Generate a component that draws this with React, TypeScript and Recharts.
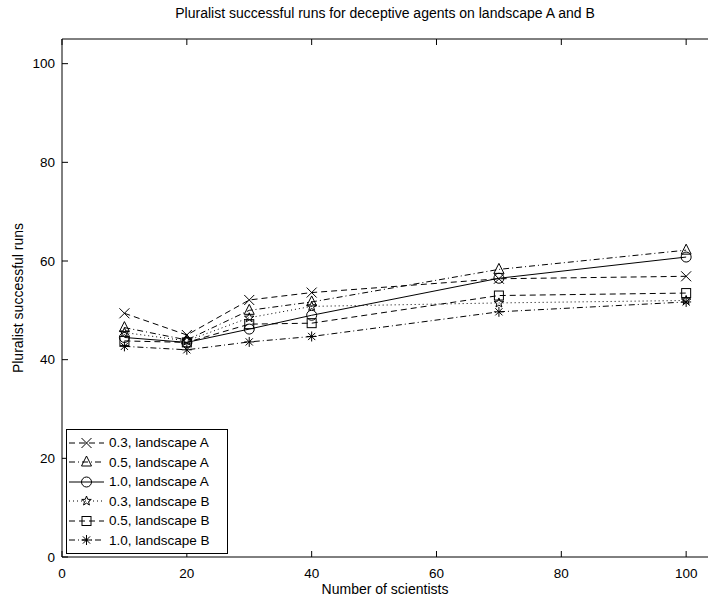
import React from "react"
import { LineChart, Line, XAxis, YAxis } from "recharts"

const scientists = [10, 20, 30, 40, 70, 100]
const a03 = [49.4, 45.0, 52.1, 53.6, 56.4, 56.9]
const a05 = [46.5, 44.0, 50.0, 51.7, 58.3, 62.2]
const a10 = [44.5, 43.5, 46.2, 49.0, 56.5, 60.8]
const b03 = [45.5, 43.8, 48.5, 50.8, 51.5, 52.0]
const b05 = [43.8, 43.5, 47.2, 47.4, 53.0, 53.5]
const b10 = [42.7, 42.0, 43.6, 44.7, 49.7, 51.7]
const xTicks = [0, 20, 40, 60, 80, 100]
const yTicks = [0, 20, 40, 60, 80, 100]

const data = scientists.map((n, i) => ({
  n,
  a03: a03[i],
  a05: a05[i],
  a10: a10[i],
  b03: b03[i],
  b05: b05[i],
  b10: b10[i],
}))

const FONT = "'Liberation Sans', Arial, sans-serif"

type Kind = "x" | "tri" | "circle" | "star" | "square" | "ast"

const series: { key: string; name: string; kind: Kind; dash?: string }[] = [
  { key: "a03", name: "0.3, landscape A", kind: "x", dash: "6 4" },
  { key: "a05", name: "0.5, landscape A", kind: "tri", dash: "6 3 1 3" },
  { key: "a10", name: "1.0, landscape A", kind: "circle" },
  { key: "b03", name: "0.3, landscape B", kind: "star", dash: "1 3" },
  { key: "b05", name: "0.5, landscape B", kind: "square", dash: "6 4" },
  { key: "b10", name: "1.0, landscape B", kind: "ast", dash: "6 3 1 3" },
]

function Mark({ cx, cy, kind }: { cx: number; cy: number; kind: Kind }) {
  const s = { stroke: "#000", strokeWidth: 1, fill: "none" }
  if (kind === "x")
    return (
      <g {...s}>
        <line x1={cx - 5} y1={cy - 5} x2={cx + 5} y2={cy + 5} />
        <line x1={cx - 5} y1={cy + 5} x2={cx + 5} y2={cy - 5} />
      </g>
    )
  if (kind === "tri")
    return <polygon {...s} points={`${cx},${cy - 6} ${cx - 5},${cy + 4} ${cx + 5},${cy + 4}`} />
  if (kind === "circle") return <circle {...s} cx={cx} cy={cy} r={5} />
  if (kind === "square") return <rect {...s} x={cx - 4.5} y={cy - 4.5} width={9} height={9} />
  if (kind === "star") {
    const pts: string[] = []
    for (let i = 0; i < 10; i++) {
      const r = i % 2 === 0 ? 5 : 2.1
      const a = -Math.PI / 2 + (i * Math.PI) / 5
      pts.push(`${cx + r * Math.cos(a)},${cy + r * Math.sin(a)}`)
    }
    return <polygon {...s} points={pts.join(" ")} />
  }
  return (
    <g {...s}>
      <line x1={cx - 5} y1={cy} x2={cx + 5} y2={cy} />
      <line x1={cx} y1={cy - 5} x2={cx} y2={cy + 5} />
      <line x1={cx - 3.6} y1={cy - 3.6} x2={cx + 3.6} y2={cy + 3.6} />
      <line x1={cx - 3.6} y1={cy + 3.6} x2={cx + 3.6} y2={cy - 3.6} />
    </g>
  )
}

function LegendBox() {
  return (
    <div
      style={{
        position: "absolute",
        left: 66,
        top: 429,
        border: "1px solid #000",
        background: "#fff",
        width: 162,
        padding: "3px 0",
        fontFamily: FONT,
        fontSize: 13.5,
        boxSizing: "border-box",
      }}
    >
      {series.map((s) => (
        <div key={s.key} style={{ display: "flex", alignItems: "center", height: 19.5 }}>
          <svg width={42} height={16} style={{ flex: "none" }}>
            <line x1={2} y1={8} x2={37} y2={8} stroke="#000" strokeDasharray={s.dash} />
            <Mark cx={19.5} cy={8} kind={s.kind} />
          </svg>
          <span style={{ color: "#000" }}>{s.name}</span>
        </div>
      ))}
    </div>
  )
}

export default function App() {
  const label = { position: "absolute" as const, fontFamily: FONT, fontSize: 14, color: "#000" }
  return (
    <div style={{ position: "absolute", left: 0, top: 0, width: 710, height: 601, background: "#fff" }}>
      <div style={{ ...label, left: 62, width: 646, top: 5, textAlign: "center" }}>
        Pluralist successful runs for deceptive agents on landscape A and B
      </div>
      <div style={{ ...label, left: 62, width: 646, top: 581, textAlign: "center" }}>Number of scientists</div>
      <div
        style={{
          ...label,
          left: 18,
          top: 298,
          transform: "translate(-50%, -50%) rotate(-90deg)",
          whiteSpace: "nowrap",
        }}
      >
        Pluralist successful runs
      </div>
      <LineChart width={710} height={601} data={data} margin={{ top: 38, right: 2, bottom: 14, left: 0 }}>
        <XAxis
          dataKey="n"
          type="number"
          domain={[0, 103.5]}
          ticks={xTicks}
          height={30}
          stroke="#000"
          tickSize={-6}
          tickMargin={17}
          tick={{ fill: "#000", fontSize: 13.5, fontFamily: FONT }}
        />
        <XAxis
          xAxisId="top"
          orientation="top"
          dataKey="n"
          type="number"
          domain={[0, 103.5]}
          ticks={xTicks}
          height={1}
          stroke="#000"
          tickSize={-6}
          tickFormatter={() => ""}
        />
        <YAxis
          type="number"
          domain={[0, 105]}
          ticks={yTicks}
          width={62}
          stroke="#000"
          tickSize={-6}
          tickMargin={13}
          tick={{ fill: "#000", fontSize: 13.5, fontFamily: FONT }}
        />
        {series.map((s) => (
          <Line
            key={s.key}
            dataKey={s.key}
            name={s.name}
            type="linear"
            stroke="#000"
            strokeWidth={1}
            strokeDasharray={s.dash}
            isAnimationActive={false}
            dot={(p: any) => <Mark key={`${s.key}-${p.index}`} cx={p.cx} cy={p.cy} kind={s.kind} />}
            activeDot={false}
          />
        ))}
      </LineChart>
      <LegendBox />
    </div>
  )
}
